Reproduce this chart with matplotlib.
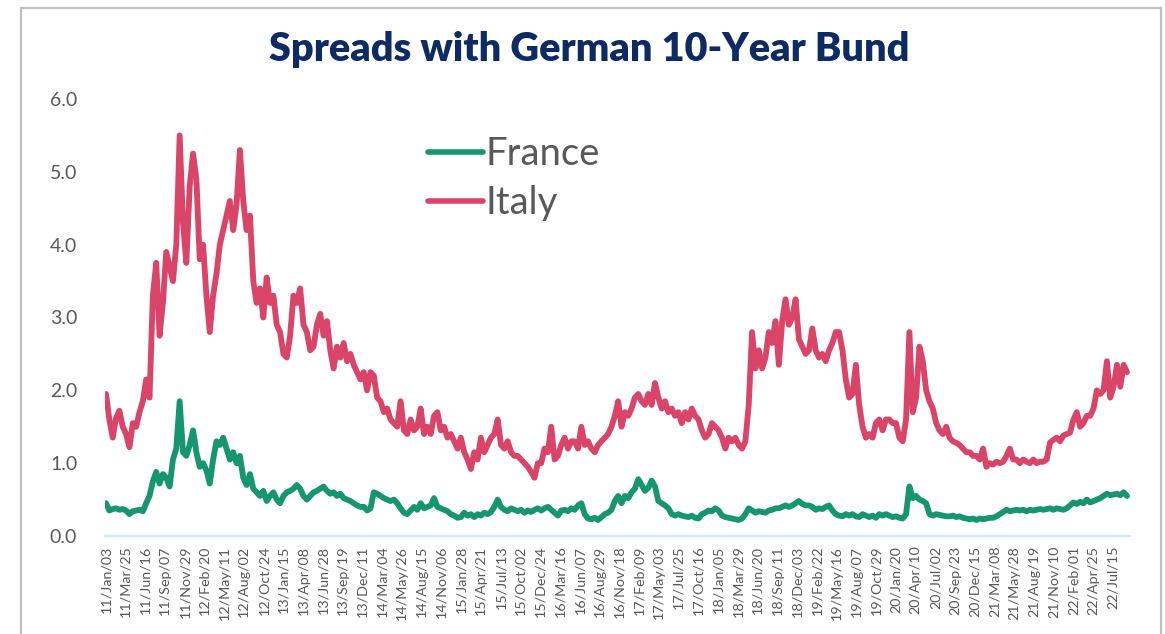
import numpy as np
import pandas as pd
import matplotlib
matplotlib.use("Agg")
import matplotlib.pyplot as plt
from matplotlib.patches import FancyBboxPatch

plt.rcParams['font.family'] = ['Lato', 'DejaVu Sans']

# ---- data: spread values sampled every 10 business days from 2011-01-03 ----
start_date = "2011-01-03"
n_business_days = 3051
sample_step = 10
label_step = 59

italy = [
    # 2011-01 .. 2013-04 (i = 0 .. 600)
    1.95, 1.60, 1.35, 1.62, 1.72, 1.50, 1.40, 1.22, 1.55, 1.50,
    1.70, 1.85, 2.15, 1.90, 3.30, 3.75, 2.75, 3.20, 3.90, 3.70,
    3.50, 4.00, 5.50, 4.30, 3.75, 4.80, 5.25, 4.90, 3.80, 4.00,
    3.30, 2.80, 3.30, 3.60, 4.00, 4.20, 4.40, 4.60, 4.20, 4.55,
    5.30, 4.60, 4.20, 4.40, 3.50, 3.20, 3.40, 3.00, 3.55, 3.20,
    3.30, 2.90, 2.80, 2.50, 2.45, 2.75, 3.30, 3.20, 3.40, 2.90,
    2.80,
    # i = 610 .. 1220
    2.55, 2.60, 2.90, 3.05, 2.75, 2.95, 2.55, 2.30, 2.60, 2.45,
    2.65, 2.40, 2.50, 2.35, 2.25, 2.15, 2.25, 2.00, 2.25, 2.20,
    1.90, 1.85, 1.70, 1.75, 1.60, 1.55, 1.50, 1.85, 1.45, 1.40,
    1.60, 1.45, 1.50, 1.75, 1.40, 1.50, 1.40, 1.65, 1.70, 1.45,
    1.50, 1.35, 1.40, 1.30, 1.20, 1.35, 1.15, 1.05, 0.92, 1.15,
    1.05, 1.35, 1.15, 1.25, 1.35, 1.40, 1.60, 1.25, 1.20, 1.30,
    1.15, 1.10,
    # i = 1230 .. 1820
    1.10, 1.05, 1.00, 0.95, 0.88, 0.80, 1.00, 1.00, 1.20, 1.15,
    1.50, 1.05, 1.10, 1.25, 1.35, 1.20, 1.30, 1.30, 1.20, 1.50,
    1.25, 1.30, 1.20, 1.15, 1.25, 1.30, 1.35, 1.40, 1.50, 1.65,
    1.85, 1.50, 1.70, 1.65, 1.75, 1.90, 1.95, 1.85, 1.80, 1.95,
    1.80, 2.10, 1.90, 1.75, 1.85, 1.70, 1.75, 1.65, 1.70, 1.55,
    1.70, 1.60, 1.75, 1.65, 1.60, 1.45, 1.35, 1.40, 1.55, 1.50,
    # i = 1830 .. 2440
    1.45, 1.35, 1.20, 1.35, 1.30, 1.35, 1.25, 1.20, 1.30, 1.80,
    2.80, 2.30, 2.55, 2.30, 2.45, 2.80, 2.65, 2.95, 2.35, 2.95,
    3.25, 2.90, 3.00, 3.25, 2.70, 2.60, 2.50, 2.55, 2.85, 2.55,
    2.45, 2.50, 2.40, 2.55, 2.65, 2.80, 2.80, 2.55, 2.15, 1.90,
    1.95, 2.35, 1.80, 1.50, 1.35, 1.40, 1.35, 1.55, 1.60, 1.45,
    1.60, 1.60, 1.55, 1.55, 1.35, 1.30, 1.60, 2.80, 1.70, 1.90,
    2.60, 2.40,
    # i = 2450 .. 3050
    2.00, 1.85, 1.75, 1.55, 1.45, 1.40, 1.50, 1.35, 1.30, 1.28,
    1.25, 1.20, 1.15, 1.15, 1.10, 1.10, 1.05, 1.20, 0.95, 1.00,
    0.98, 1.02, 1.00, 1.02, 1.10, 1.20, 1.05, 1.05, 1.00, 1.05,
    1.02, 1.00, 1.05, 1.00, 1.02, 1.02, 1.05, 1.28, 1.32, 1.35,
    1.30, 1.38, 1.40, 1.42, 1.60, 1.70, 1.50, 1.55, 1.65, 1.65,
    1.75, 2.00, 1.95, 2.00, 2.40, 1.90, 2.05, 2.35, 2.05, 2.35,
    2.25,
]

france = [
    # i = 0 .. 600
    0.45, 0.35, 0.37, 0.38, 0.36, 0.37, 0.35, 0.30, 0.34, 0.35,
    0.36, 0.34, 0.45, 0.55, 0.75, 0.88, 0.72, 0.85, 0.80, 0.68,
    1.05, 1.20, 1.85, 1.15, 1.10, 1.25, 1.45, 1.15, 0.95, 1.00,
    0.90, 0.72, 1.05, 1.30, 1.25, 1.35, 1.20, 1.05, 1.15, 1.00,
    1.10, 0.80, 0.70, 0.85, 0.65, 0.60, 0.55, 0.62, 0.48, 0.55,
    0.60, 0.50, 0.45, 0.55, 0.60, 0.62, 0.65, 0.70, 0.65, 0.55,
    0.50,
    # i = 610 .. 1220
    0.55, 0.60, 0.62, 0.65, 0.68, 0.62, 0.58, 0.60, 0.55, 0.58,
    0.52, 0.50, 0.48, 0.45, 0.42, 0.40, 0.40, 0.35, 0.38, 0.60,
    0.58, 0.55, 0.52, 0.50, 0.48, 0.50, 0.45, 0.38, 0.32, 0.30,
    0.35, 0.40, 0.36, 0.45, 0.38, 0.40, 0.42, 0.52, 0.40, 0.38,
    0.36, 0.34, 0.30, 0.28, 0.25, 0.26, 0.32, 0.28, 0.30, 0.26,
    0.30, 0.28, 0.32, 0.30, 0.33, 0.40, 0.50, 0.40, 0.36, 0.34,
    0.38, 0.36,
    # i = 1230 .. 1820
    0.34, 0.36, 0.32, 0.35, 0.33, 0.36, 0.38, 0.35, 0.38, 0.40,
    0.36, 0.32, 0.28, 0.35, 0.36, 0.34, 0.38, 0.36, 0.42, 0.45,
    0.30, 0.24, 0.23, 0.25, 0.22, 0.26, 0.30, 0.32, 0.36, 0.48,
    0.55, 0.45, 0.55, 0.52, 0.60, 0.65, 0.78, 0.70, 0.62, 0.66,
    0.76, 0.68, 0.48, 0.45, 0.42, 0.38, 0.30, 0.28, 0.30, 0.28,
    0.27, 0.26, 0.28, 0.25, 0.24, 0.30, 0.32, 0.35, 0.34, 0.38,
    # i = 1830 .. 2440
    0.35, 0.28, 0.26, 0.25, 0.24, 0.23, 0.22, 0.24, 0.30, 0.38,
    0.35, 0.32, 0.34, 0.33, 0.32, 0.35, 0.36, 0.38, 0.38, 0.40,
    0.42, 0.40, 0.42, 0.45, 0.48, 0.44, 0.42, 0.42, 0.40, 0.36,
    0.38, 0.37, 0.40, 0.42, 0.35, 0.30, 0.28, 0.27, 0.30, 0.28,
    0.30, 0.27, 0.26, 0.30, 0.28, 0.26, 0.28, 0.25, 0.30, 0.28,
    0.30, 0.28, 0.26, 0.27, 0.25, 0.24, 0.30, 0.68, 0.52, 0.55,
    0.50, 0.48,
    # i = 2450 .. 3050
    0.45, 0.30, 0.28, 0.30, 0.29, 0.28, 0.27, 0.27, 0.28, 0.26,
    0.27, 0.25, 0.24, 0.23, 0.24, 0.22, 0.24, 0.23, 0.24, 0.25,
    0.25, 0.27, 0.30, 0.33, 0.36, 0.34, 0.35, 0.36, 0.35, 0.36,
    0.34, 0.36, 0.35, 0.36, 0.37, 0.36, 0.37, 0.38, 0.36, 0.38,
    0.37, 0.36, 0.38, 0.42, 0.46, 0.44, 0.47, 0.45, 0.50, 0.46,
    0.48, 0.50, 0.52, 0.55, 0.58, 0.56, 0.57, 0.58, 0.56, 0.60,
    0.55,
]

series_names = ["France", "Italy"]
series_colors = ["#15966F", "#DB4469"]
y_ticks = [0.0, 1.0, 2.0, 3.0, 4.0, 5.0, 6.0]
title = "Spreads with German 10-Year Bund"

# ---- derived categories ----
all_days = pd.bdate_range(start_date, periods=n_business_days)
day_pos = np.arange(n_business_days)
sample_pos = day_pos[::sample_step]
assert len(sample_pos) == len(italy) == len(france)
tick_pos = day_pos[::label_step]
tick_labels = [all_days[p].strftime("%y/%b/%d") for p in tick_pos]

# ---- figure ----
W, H = 1165, 634
fig = plt.figure(figsize=(W / 100, H / 100), dpi=100)
fig.patch.set_facecolor("white")

# outer light-gray frame (open at the bottom like the cropped original)
frame = FancyBboxPatch((21 / W, -0.05), (1161 - 21) / W, (634 - 8) / H + 0.05,
                       boxstyle="square,pad=0", transform=fig.transFigure,
                       fill=False, edgecolor="#BFBFBF", linewidth=1.6)
fig.patches.append(frame)

ax_left, ax_right = 105, 1130
ax_top, ax_bottom = 99, 536
ax = fig.add_axes([ax_left / W, (H - ax_bottom) / H,
                   (ax_right - ax_left) / W, (ax_bottom - ax_top) / H])
ax.set_facecolor("none")

for name, vals, col in zip(series_names, [france, italy], series_colors):
    ax.plot(sample_pos, vals, color=col, linewidth=4.2, label=name,
            solid_joinstyle="round", solid_capstyle="round")

ax.set_ylim(0, 6)
ax.set_xlim(-3, n_business_days + 8)
ax.set_yticks(y_ticks)
ax.set_yticklabels([f"{v:.1f}" for v in y_ticks], fontsize=14, color="#595959")
ax.set_xticks(tick_pos)
ax.set_xticklabels(tick_labels, rotation=90, fontsize=10.3, color="#595959")
ax.tick_params(axis="both", length=0)
ax.tick_params(axis="y", pad=20)
ax.tick_params(axis="x", pad=7)
for s in ["top", "right", "left"]:
    ax.spines[s].set_visible(False)
ax.spines["bottom"].set_color("#CDEBF8")
ax.spines["bottom"].set_linewidth(1.6)

leg = ax.legend(loc="upper left", bbox_to_anchor=(428 / W, (H - 136) / H),
                bbox_transform=fig.transFigure, frameon=False, fontsize=27.5,
                handlelength=1.45, handletextpad=0.06, labelspacing=0.34,
                borderpad=0, borderaxespad=0)
for t in leg.get_texts():
    t.set_color("#595959")
for l in leg.get_lines():
    l.set_linewidth(4)

fig.text(589 / W, (H - 50) / H, title, ha="center", va="center",
         fontsize=28.5, fontweight="heavy", color="#0E2A63")

fig.savefig("out.png", dpi=100)
